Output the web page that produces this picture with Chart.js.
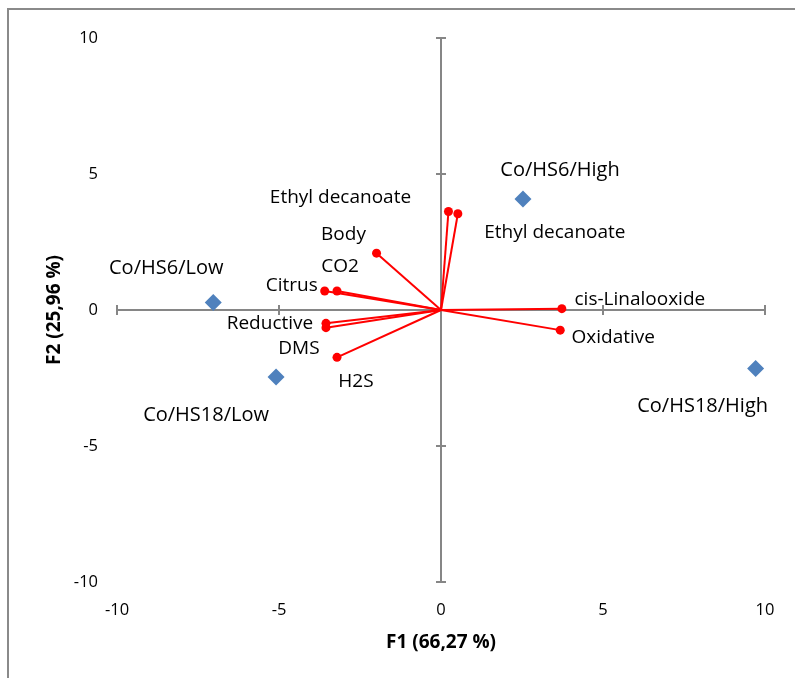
<!DOCTYPE html>
<html>
<head>
<meta charset="utf-8">
<title>PCA biplot F1 x F2</title>
<script src="https://cdn.jsdelivr.net/npm/chart.js@4/dist/chart.umd.min.js"></script>
<style>
  html, body { margin: 0; padding: 0; background: #fff; overflow: hidden; }
  #wrap { position: relative; width: 795px; height: 678px; }
  #frame { position: absolute; left: 7px; top: 8px; width: 900px; height: 800px;
           border-left: 2px solid #8a8a8a; border-top: 2px solid #8a8a8a; box-sizing: border-box; }
  canvas { position: absolute; left: 0; top: 0; }
</style>
</head>
<body>
<div id="wrap">
  <div id="frame"></div>
  <canvas id="biplot" width="795" height="678"></canvas>
</div>
<script>
// Observations (products) scores on F1 / F2
const obsNames = ['Co/HS6/High', 'Co/HS6/Low', 'Co/HS18/Low', 'Co/HS18/High'];
const obsF1 = [2.53, -7.03, -5.09, 9.71];
const obsF2 = [4.08, 0.28, -2.46, -2.15];

// Variables (loadings, scaled) on F1 / F2
const varNames = ['Ethyl decanoate', 'Ethyl decanoate', 'Body', 'CO2', 'Citrus',
                  'Reductive', 'DMS', 'H2S', 'cis-Linalooxide', 'Oxidative'];
const varF1 = [0.23, 0.52, -1.99, -3.21, -3.59, -3.55, -3.55, -3.21, 3.73, 3.68];
const varF2 = [3.62, 3.54, 2.09, 0.70, 0.70, -0.49, -0.65, -1.74, 0.05, -0.74];

// Axis tick labels
const axisTicks = [-10, -5, 0, 5, 10];

// Label placement around each mark (pixels)
const obsLabelOffset = [[37, -29], [-47, -34], [-70, 38], [-53, 38]];
const varLabelOffset = [[-108, -14], [97, 19], [-33, -19], [3, -24], [-33, -5],
                        [-56, 0], [-27, 21], [19, 24], [78, -9], [53, 7]];

const FONT = '"Open Sans", "Liberation Sans", sans-serif';
const RED = '#ff0000';
const BLUE = '#4f81bd';

const datasets = [];
varNames.forEach((name, i) => {
  datasets.push({
    label: name,
    kind: 'var',
    idx: i,
    data: [{x: 0, y: 0}, {x: varF1[i], y: varF2[i]}],
    showLine: true,
    borderColor: RED,
    borderWidth: 2,
    pointRadius: [0, 4.5],
    pointBackgroundColor: RED,
    pointBorderWidth: 0,
    order: 1
  });
});
datasets.push({
  label: 'Observations',
  kind: 'obs',
  data: obsNames.map((n, i) => ({x: obsF1[i], y: obsF2[i]})),
  pointStyle: 'rectRot',
  pointRadius: 8.5,
  backgroundColor: BLUE,
  borderWidth: 0,
  order: 0
});

// Axes crossing at the origin, with ticks crossing the axis lines
const crossAxes = {
  id: 'crossAxes',
  beforeDatasetsDraw(chart) {
    const {ctx, scales: {x, y}} = chart;
    const x0 = x.getPixelForValue(0), y0 = y.getPixelForValue(0);
    ctx.save();
    ctx.strokeStyle = '#868686';
    ctx.lineWidth = 2;
    ctx.beginPath();
    ctx.moveTo(x.getPixelForValue(x.min), y0);
    ctx.lineTo(x.getPixelForValue(x.max), y0);
    ctx.moveTo(x0, y.getPixelForValue(y.max));
    ctx.lineTo(x0, y.getPixelForValue(y.min));
    x.ticks.forEach(t => {
      const px = x.getPixelForValue(t.value);
      ctx.moveTo(px, y0 - 5); ctx.lineTo(px, y0 + 5);
    });
    y.ticks.forEach(t => {
      const py = y.getPixelForValue(t.value);
      ctx.moveTo(x0 - 5, py); ctx.lineTo(x0 + 5, py);
    });
    ctx.stroke();
    ctx.restore();
  }
};

// Names next to each vector end and each observation
const markLabels = {
  id: 'markLabels',
  afterDatasetsDraw(chart) {
    const ctx = chart.ctx;
    ctx.save();
    ctx.fillStyle = '#000';
    ctx.textAlign = 'center';
    ctx.textBaseline = 'middle';
    chart.data.datasets.forEach((ds, di) => {
      const meta = chart.getDatasetMeta(di);
      if (ds.kind === 'var') {
        ctx.font = '19px ' + FONT;
        const pt = meta.data[1];
        const off = varLabelOffset[ds.idx];
        ctx.fillText(varNames[ds.idx], pt.x + off[0], pt.y + off[1]);
      } else {
        ctx.font = '20px ' + FONT;
        meta.data.forEach((pt, i) => {
          const off = obsLabelOffset[i];
          ctx.fillText(obsNames[i], pt.x + off[0], pt.y + off[1]);
        });
      }
    });
    ctx.restore();
  }
};

new Chart(document.getElementById('biplot'), {
  type: 'scatter',
  data: { datasets },
  options: {
    responsive: false,
    animation: false,
    events: [],
    layout: { padding: { left: 0, top: 38, right: 30, bottom: 0 } },
    plugins: { legend: { display: false }, tooltip: { enabled: false } },
    scales: {
      x: {
        type: 'linear',
        min: axisTicks[0],
        max: axisTicks[axisTicks.length - 1],
        afterBuildTicks: s => { s.ticks = axisTicks.map(v => ({value: v})); },
        afterFit: s => { s.height = 96; },
        grid: { display: false, drawTicks: false },
        border: { display: false },
        ticks: { color: '#000', font: { family: FONT, size: 16.5 }, padding: 18, maxRotation: 0 },
        title: { display: true, text: 'F1 (66,27 %)', color: '#000',
                 font: { family: FONT, size: 19, weight: 'bold' }, padding: { top: 0, bottom: 24 } }
      },
      y: {
        type: 'linear',
        min: axisTicks[0],
        max: axisTicks[axisTicks.length - 1],
        afterBuildTicks: s => { s.ticks = axisTicks.map(v => ({value: v})); },
        afterFit: s => { s.width = 117; },
        grid: { display: false, drawTicks: false },
        border: { display: false },
        ticks: { color: '#000', font: { family: FONT, size: 16.5 }, padding: 19 },
        title: { display: true, text: 'F2 (25,96 %)', color: '#000',
                 font: { family: FONT, size: 19, weight: 'bold' }, padding: { top: 43, bottom: 0 } }
      }
    }
  },
  plugins: [crossAxes, markLabels]
});
</script>
</body>
</html>
